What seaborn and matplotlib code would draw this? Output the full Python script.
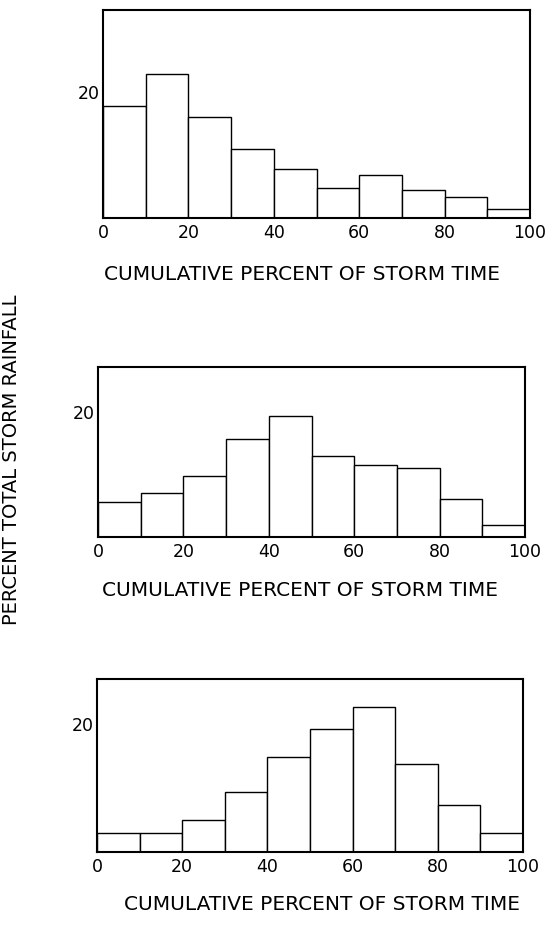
import numpy as np
import matplotlib
matplotlib.use("Agg")
import matplotlib.pyplot as plt
import seaborn as sns

# Data: percent of total storm rainfall in each 10% interval of storm time
bin_edges = [0, 10, 20, 30, 40, 50, 60, 70, 80, 90, 100]
bin_centers = [5, 15, 25, 35, 45, 55, 65, 75, 85, 95]
panel1_values = [17.8, 22.8, 16.0, 11.0, 7.8, 4.8, 6.9, 4.5, 3.4, 1.5]
panel2_values = [5.6, 7.0, 9.8, 15.6, 19.4, 12.9, 11.6, 11.1, 6.1, 1.9]
panel3_values = [2.9, 3.0, 5.0, 9.4, 14.8, 19.2, 22.6, 13.8, 7.4, 2.9]
x_ticks = [0, 20, 40, 60, 80, 100]
x_ticklabels = ["0", "20", "40", "60", "80", "100"]
y_ticks = [20]
y_ticklabels = ["20"]
x_label = "CUMULATIVE PERCENT OF STORM TIME"
y_label = "PERCENT TOTAL STORM RAINFALL"

sns.set_theme(style="white")
plt.rcParams['font.family'] = ['DejaVu Sans']

fig = plt.figure(figsize=(5.55, 9.32), dpi=100)

W, H = 555.0, 932.0
# (left, top, right, bottom) in pixels, ylim max, xlabel (x center, y) px
panels = [
    (panel1_values, (103, 10, 530, 218), 33.0, (302, 274)),
    (panel2_values, (98, 367, 525, 537), 27.2, (300, 590)),
    (panel3_values, (97, 679, 523, 852), 27.0, (322, 905)),
]

for vals, (l, t, r, b), ymax, (xl_x, xl_y) in panels:
    ax = fig.add_axes([l / W, 1 - b / H, (r - l) / W, (b - t) / H])
    sns.histplot(x=bin_centers, weights=vals, bins=bin_edges, ax=ax,
                 stat="count", element="bars", fill=True,
                 color="white", edgecolor="black", linewidth=1.0, alpha=1.0)
    ax.set_xlim(0, 100)
    ax.set_ylim(0, ymax)
    ax.set_xticks(x_ticks)
    ax.set_xticklabels(x_ticklabels)
    ax.set_yticks(y_ticks)
    ax.set_yticklabels(y_ticklabels)
    ax.tick_params(axis="both", length=0, labelsize=12.5, colors="black")
    ax.tick_params(axis="x", pad=4)
    ax.tick_params(axis="y", pad=2)
    ax.set_xlabel("")
    ax.set_ylabel("")
    ax.grid(False)
    for s in ax.spines.values():
        s.set_visible(True)
        s.set_color("black")
        s.set_linewidth(1.5)
    fig.text(xl_x / W, 1 - xl_y / H, x_label,
             ha="center", va="center", fontsize=14.5, color="black")

fig.text(12 / W, 1 - 460 / H, y_label, rotation=90, ha="center", va="center",
         fontsize=14, color="black")

fig.savefig("out.png", dpi=100, facecolor="white")
